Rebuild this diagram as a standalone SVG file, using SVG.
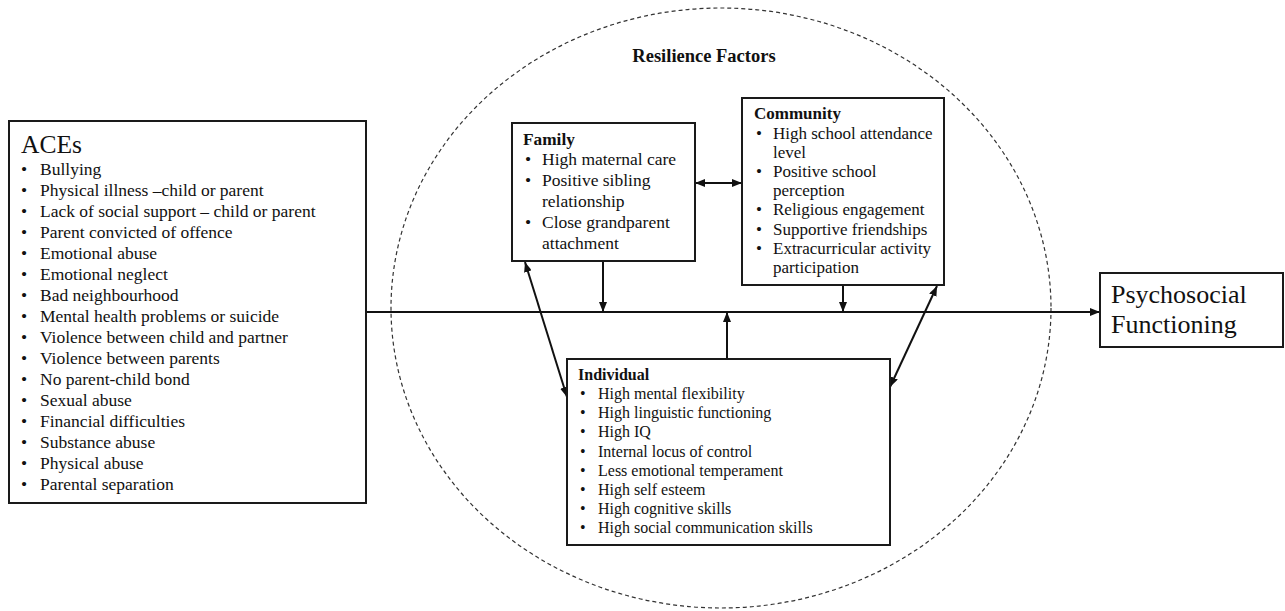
<svg xmlns="http://www.w3.org/2000/svg" width="1285" height="611" viewBox="0 0 1285 611">
<style>
  .box { fill: #fff; stroke: #1a1a1a; stroke-width: 2; }
  .t { font-family: "Liberation Serif", "Times New Roman", serif; fill: #111; }
  .ace { font-size: 17.5px; }
  .fam { font-size: 17.5px; }
  .com { font-size: 17px; }
  .ind { font-size: 16px; }
  .hd { font-weight: bold; }
  .conn { stroke: #111; stroke-width: 2; fill: none; }
</style>
<defs>
  <marker id="ah" viewBox="0 0 10 8" refX="10" refY="4" markerWidth="10" markerHeight="8" markerUnits="userSpaceOnUse" orient="auto-start-reverse">
    <path d="M0,0 L10,4 L0,8 z" fill="#111"/>
  </marker>
</defs>
<rect width="1285" height="611" fill="#fff"/>

<g id="resilience-circle">
  <ellipse cx="721" cy="308" rx="330" ry="300" fill="none" stroke="#333" stroke-width="1.2" stroke-dasharray="4 3"/>
  <text class="t hd" x="704" y="62" font-size="18.5" text-anchor="middle">Resilience Factors</text>
</g>

<g id="connectors">
  <path class="conn" d="M366,312 H1100" marker-end="url(#ah)"/>
  <path class="conn" d="M603,261 V312" marker-end="url(#ah)"/>
  <path class="conn" d="M843,285 V312" marker-end="url(#ah)"/>
  <path class="conn" d="M727,359 V312" marker-end="url(#ah)"/>
  <path class="conn" d="M695,183 H742" marker-start="url(#ah)" marker-end="url(#ah)"/>
  <path class="conn" d="M525,262 L567,397" marker-start="url(#ah)" marker-end="url(#ah)"/>
  <path class="conn" d="M937,286 L890,387" marker-start="url(#ah)" marker-end="url(#ah)"/>
</g>

<g id="aces">
  <rect class="box" x="9" y="121" width="357" height="382"/>
  <text class="t" x="21" y="153" font-size="25.5">ACEs</text>
  <g class="t ace">
    <text x="21" y="175">•</text><text x="40" y="175">Bullying</text>
    <text x="21" y="196">•</text><text x="40" y="196">Physical illness –child or parent</text>
    <text x="21" y="217">•</text><text x="40" y="217">Lack of social support – child or parent</text>
    <text x="21" y="238">•</text><text x="40" y="238">Parent convicted of offence</text>
    <text x="21" y="259">•</text><text x="40" y="259">Emotional abuse</text>
    <text x="21" y="280">•</text><text x="40" y="280">Emotional neglect</text>
    <text x="21" y="301">•</text><text x="40" y="301">Bad neighbourhood</text>
    <text x="21" y="322">•</text><text x="40" y="322">Mental health problems or suicide</text>
    <text x="21" y="343">•</text><text x="40" y="343">Violence between child and partner</text>
    <text x="21" y="364">•</text><text x="40" y="364">Violence between parents</text>
    <text x="21" y="385">•</text><text x="40" y="385">No parent-child bond</text>
    <text x="21" y="406">•</text><text x="40" y="406">Sexual abuse</text>
    <text x="21" y="427">•</text><text x="40" y="427">Financial difficulties</text>
    <text x="21" y="448">•</text><text x="40" y="448">Substance abuse</text>
    <text x="21" y="469">•</text><text x="40" y="469">Physical abuse</text>
    <text x="21" y="490">•</text><text x="40" y="490">Parental separation</text>
  </g>
</g>

<g id="family">
  <rect class="box" x="512" y="123" width="183" height="138"/>
  <text class="t hd" x="523" y="145" font-size="17.3">Family</text>
  <g class="t fam">
    <text x="525" y="165">•</text><text x="542" y="165">High maternal care</text>
    <text x="525" y="186">•</text><text x="542" y="186">Positive sibling</text>
    <text x="542" y="207">relationship</text>
    <text x="525" y="228">•</text><text x="542" y="228">Close grandparent</text>
    <text x="542" y="249">attachment</text>
  </g>
</g>

<g id="community">
  <rect class="box" x="742" y="98" width="202" height="187"/>
  <text class="t hd" x="754" y="119" font-size="17">Community</text>
  <g class="t com">
    <text x="756" y="139">•</text><text x="773" y="139">High school attendance</text>
    <text x="773" y="158">level</text>
    <text x="756" y="177">•</text><text x="773" y="177">Positive school</text>
    <text x="773" y="196">perception</text>
    <text x="756" y="215">•</text><text x="773" y="215">Religious engagement</text>
    <text x="756" y="235">•</text><text x="773" y="235">Supportive friendships</text>
    <text x="756" y="254">•</text><text x="773" y="254">Extracurricular activity</text>
    <text x="773" y="273">participation</text>
  </g>
</g>

<g id="individual">
  <rect class="box" x="567" y="359" width="323" height="186"/>
  <text class="t hd" x="578" y="380" font-size="16">Individual</text>
  <g class="t ind">
    <text x="580" y="399">•</text><text x="598" y="399">High mental flexibility</text>
    <text x="580" y="418">•</text><text x="598" y="418">High linguistic functioning</text>
    <text x="580" y="437">•</text><text x="598" y="437">High IQ</text>
    <text x="580" y="457">•</text><text x="598" y="457">Internal locus of control</text>
    <text x="580" y="476">•</text><text x="598" y="476">Less emotional temperament</text>
    <text x="580" y="495">•</text><text x="598" y="495">High self esteem</text>
    <text x="580" y="514">•</text><text x="598" y="514">High cognitive skills</text>
    <text x="580" y="533">•</text><text x="598" y="533">High social communication skills</text>
  </g>
</g>

<g id="psychosocial">
  <rect class="box" x="1100" y="273" width="183" height="74"/>
  <text class="t" x="1111" y="303" font-size="26">Psychosocial</text>
  <text class="t" x="1111" y="333" font-size="26">Functioning</text>
</g>
</svg>
